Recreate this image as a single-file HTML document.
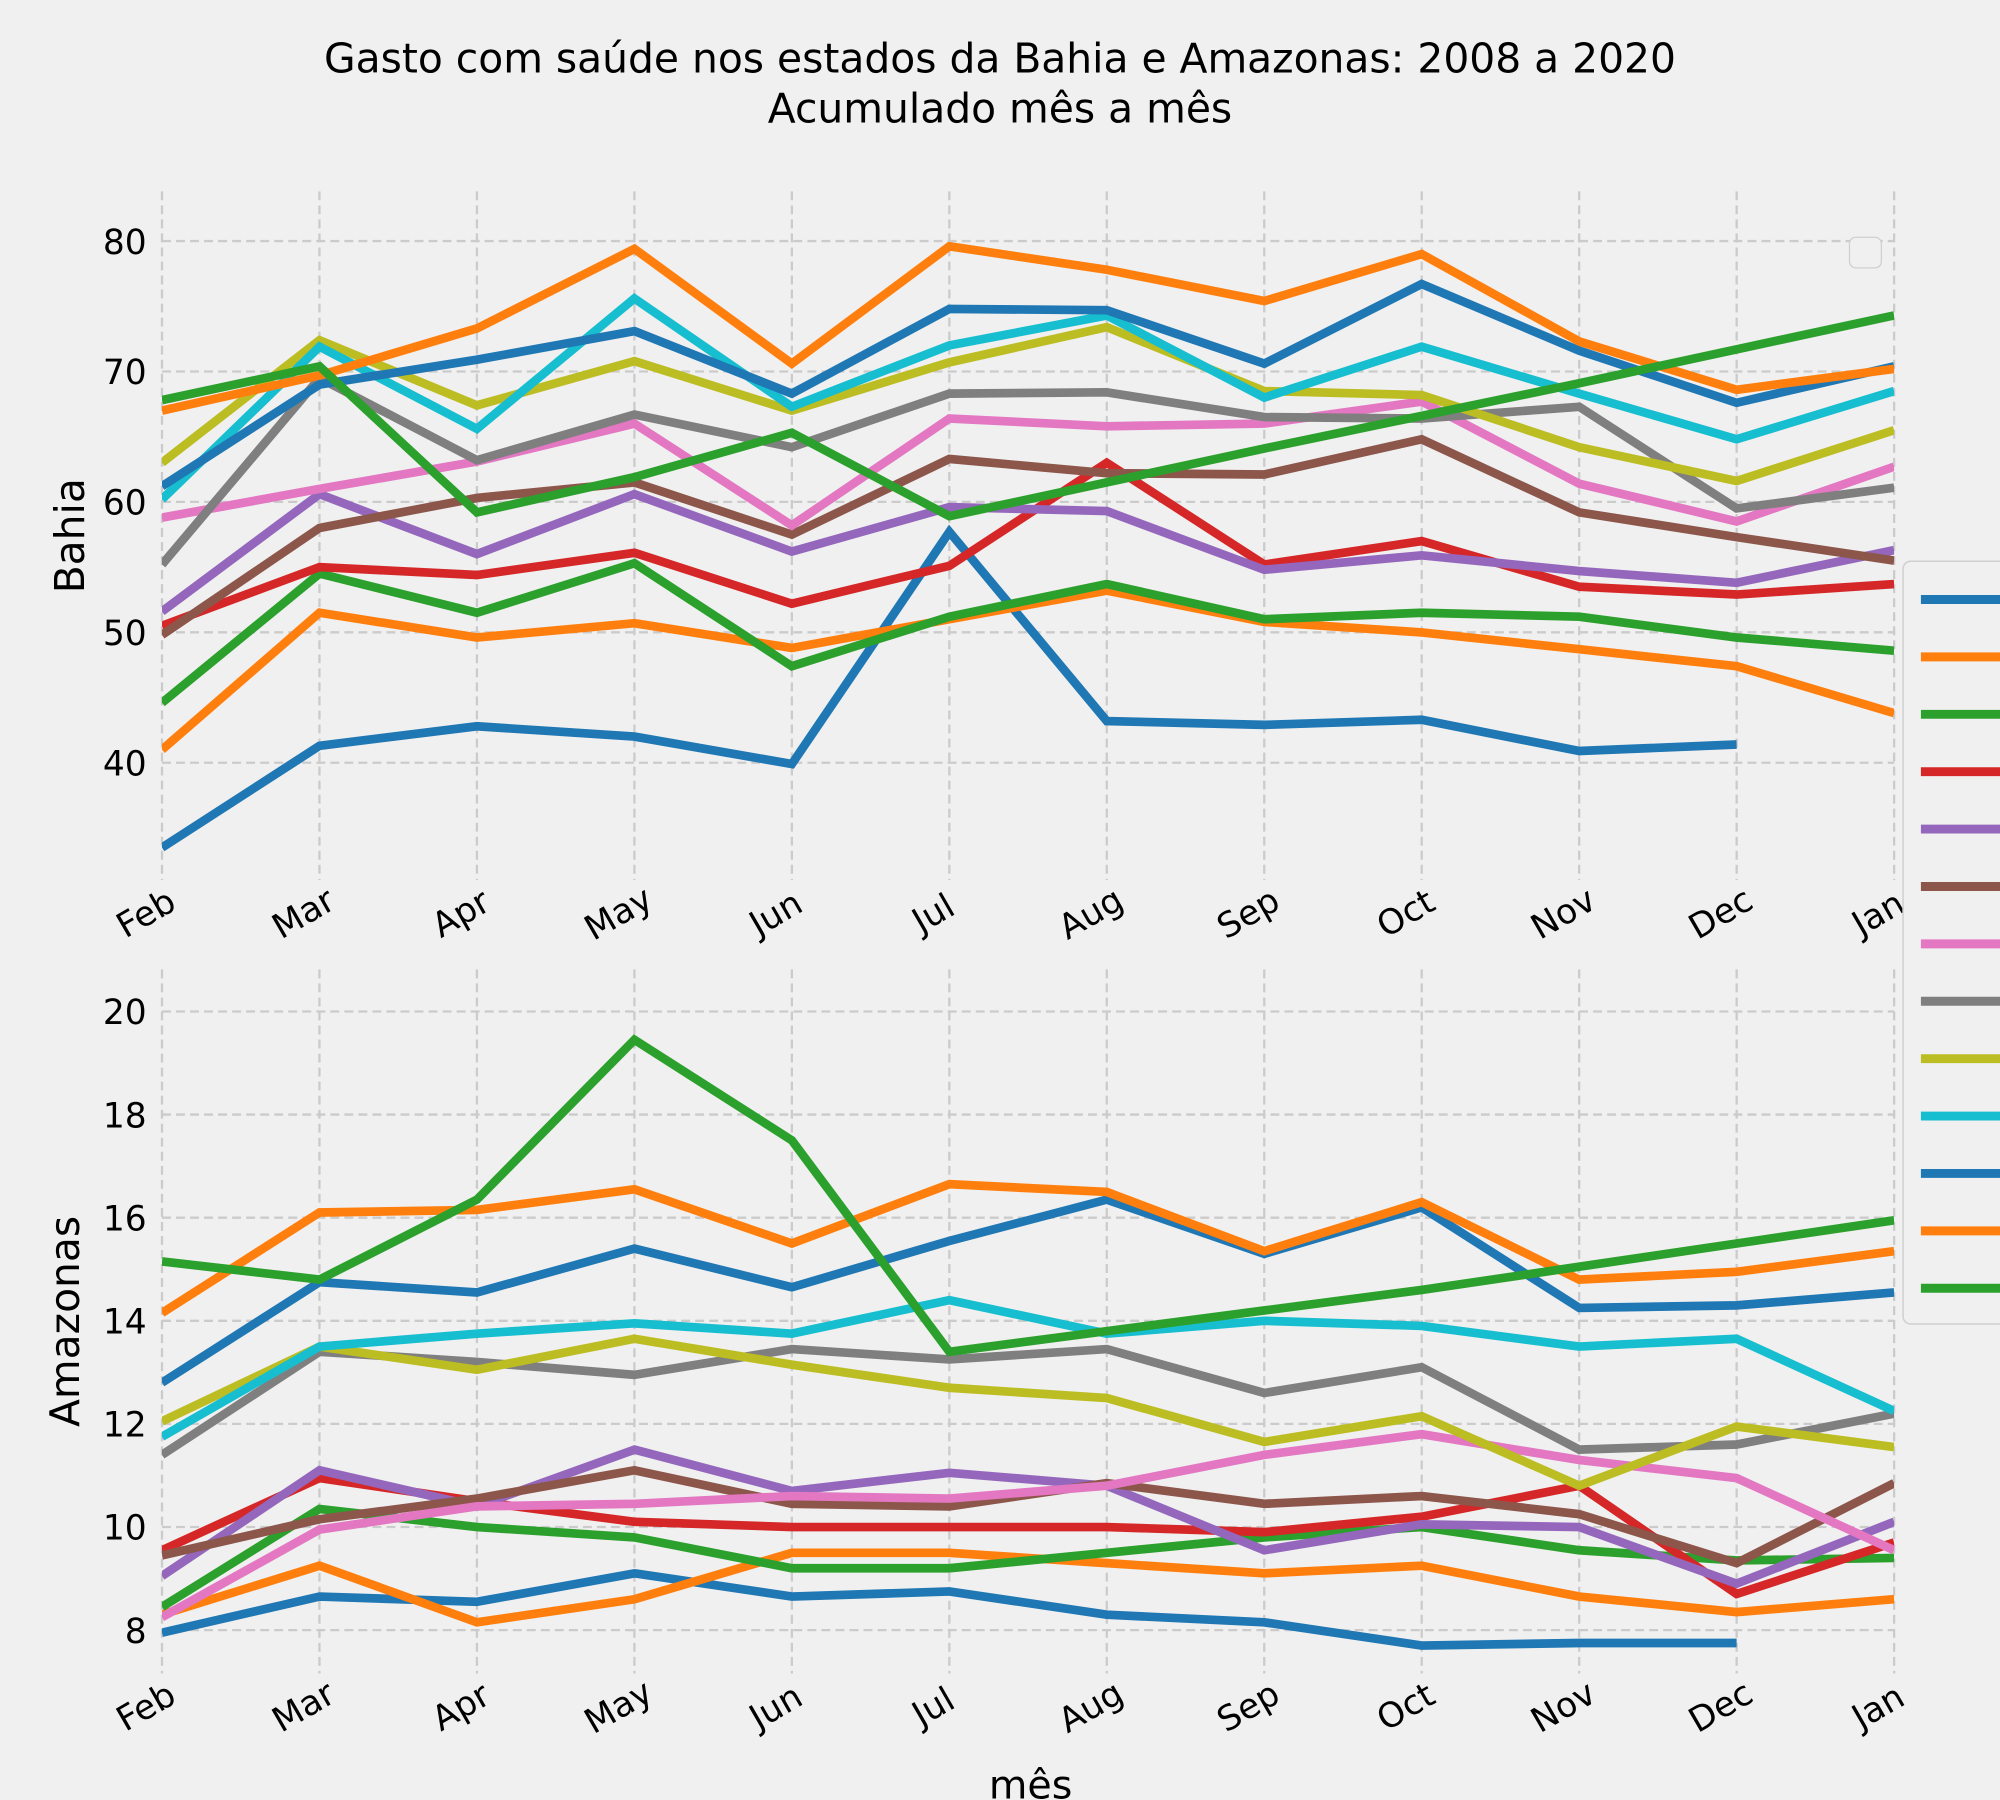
<!DOCTYPE html>
<html><head><meta charset="utf-8"><style>
html,body{margin:0;padding:0;background:#f0f0f0;}
svg{display:block;font-family:"DejaVu Sans","Liberation Sans",sans-serif;}
</style></head><body>
<svg id="chart" width="2000" height="1800" viewBox="0 0 1568 1411.2" xmlns="http://www.w3.org/2000/svg">
<rect x="0" y="0" width="1568" height="1411.2" fill="#f0f0f0"/>
<text x="784" y="57" text-anchor="middle" font-size="32" fill="#000">Gasto com saúde nos estados da Bahia e Amazonas: 2008 a 2020</text>
<text x="784" y="96" text-anchor="middle" font-size="32" fill="#000">Acumulado mês a mês</text>
<g id="top"></g>
<g id="bot"></g>
<text x="808" y="1410" text-anchor="middle" font-size="31">mês</text>
<rect x="1450" y="186" width="25" height="24" rx="5" fill="#f0f0f0" stroke="#d0d0d0"/>
<g id="legend"></g>
</svg>
<script>
const months = ["Feb","Mar","Apr","May","Jun","Jul","Aug","Sep","Oct","Nov","Dec","Jan"];
const colors = ["#1f77b4","#ff7f0e","#2ca02c","#d62728","#9467bd","#8c564b","#e377c2","#7f7f7f","#bcbd22","#17becf","#1f77b4","#ff7f0e","#2ca02c"];
const bahiaTicks = [40,50,60,70,80];
const amazTicks = [8,10,12,14,16,18,20];
const bahia2008 = [33.5,41.3,42.8,42,39.9,57.7,43.2,42.9,43.3,40.9,41.4,null];
const bahia2009 = [41,51.5,49.6,50.7,48.8,51,53.2,50.8,50,48.7,47.4,43.8];
const bahia2010 = [44.6,54.5,51.5,55.3,47.4,51.2,53.7,51,51.5,51.2,49.6,48.6];
const bahia2011 = [50.5,55,54.4,56.1,52.2,55.1,63,55.2,57,53.5,52.9,53.7];
const bahia2012 = [51.6,60.6,56,60.6,56.2,59.6,59.3,54.8,55.9,54.7,53.8,56.3];
const bahia2013 = [49.8,58,60.3,61.5,57.5,63.3,62.2,62.1,64.8,59.2,57.3,55.5];
const bahia2014 = [58.8,61,63.1,66,58.2,66.4,65.8,66,67.7,61.4,58.5,62.7];
const bahia2015 = [55.2,69.5,63.2,66.7,64.2,68.3,68.4,66.5,66.4,67.3,59.5,61.1];
const bahia2016 = [63,72.4,67.4,70.8,67,70.7,73.4,68.5,68.2,64.2,61.6,65.5];
const bahia2017 = [60.2,71.9,65.6,75.6,67.3,72,74.3,68,71.9,68.3,64.8,68.5];
const bahia2018 = [61.2,69,70.9,73.1,68.3,74.8,74.7,70.6,76.7,71.6,67.6,70.4];
const bahia2019 = [67,69.7,73.3,79.4,70.6,79.6,77.8,75.4,79,72.3,68.6,70.2];
const bahia2020 = [67.8,70.4,59.2,61.9,65.3,58.9,61.5,64.1,66.6,69.1,71.7,74.3];
const amaz2008 = [7.95,8.65,8.55,9.1,8.65,8.75,8.3,8.15,7.7,7.75,7.75,null];
const amaz2009 = [8.3,9.25,8.15,8.6,9.5,9.5,9.3,9.1,9.25,8.65,8.35,8.6];
const amaz2010 = [8.45,10.35,10.0,9.8,9.2,9.2,9.5,9.8,10.0,9.55,9.35,9.4];
const amaz2011 = [9.55,10.95,10.5,10.1,10.0,10.0,10.0,9.9,10.2,10.8,8.7,9.7];
const amaz2012 = [9.05,11.1,10.4,11.5,10.7,11.05,10.8,9.55,10.05,10.0,8.9,10.1];
const amaz2013 = [9.45,10.15,10.55,11.1,10.45,10.4,10.85,10.45,10.6,10.25,9.3,10.85];
const amaz2014 = [8.25,9.95,10.4,10.45,10.6,10.55,10.8,11.4,11.8,11.3,10.95,9.55];
const amaz2015 = [11.4,13.4,13.2,12.95,13.45,13.25,13.45,12.6,13.1,11.5,11.6,12.2];
const amaz2016 = [12.05,13.5,13.05,13.65,13.15,12.7,12.5,11.65,12.15,10.8,11.95,11.55];
const amaz2017 = [11.75,13.5,13.75,13.95,13.75,14.4,13.75,14.0,13.9,13.5,13.65,12.25];
const amaz2018 = [12.8,14.75,14.55,15.4,14.65,15.55,16.35,15.3,16.2,14.25,14.3,14.55];
const amaz2019 = [14.15,16.1,16.15,16.55,15.5,16.65,16.5,15.35,16.3,14.8,14.95,15.35];
const amaz2020 = [15.15,14.8,16.35,19.45,17.5,13.4,13.8,14.2,14.6,15.05,15.5,15.95];

const bahiaSeries=[bahia2008,bahia2009,bahia2010,bahia2011,bahia2012,bahia2013,bahia2014,bahia2015,bahia2016,bahia2017,bahia2018,bahia2019,bahia2020];
const amazSeries=[amaz2008,amaz2009,amaz2010,amaz2011,amaz2012,amaz2013,amaz2014,amaz2015,amaz2016,amaz2017,amaz2018,amaz2019,amaz2020];
const NS="http://www.w3.org/2000/svg";
const X0=127,X1=1485;
function xs(i){return X0+(X1-X0)*i/(months.length-1);}
function mk(tag,attrs,parent){const e=document.createElementNS(NS,tag);for(const k in attrs)e.setAttribute(k,attrs[k]);parent.appendChild(e);return e;}

function panel(g,series,ticks,vTop,yTop,vBot,yBot,axTop,axBot,label,labelY,pre){
  const ys=v=>yTop+(vTop-v)*(yBot-yTop)/(vTop-vBot);
  const cid="clip"+pre;
  const cp=mk("clipPath",{id:cid},g);
  mk("rect",{x:X0,y:axTop,width:X1-X0,height:axBot-axTop},cp);
  ticks.forEach(t=>{
    const l=mk("line",{x1:X0,x2:X1,y1:ys(t),y2:ys(t),stroke:"#cbcbcb","stroke-width":1.8,"stroke-dasharray":"7,4"},g);
    
    
    const tx=mk("text",{x:X0-12,y:ys(t)+10,"text-anchor":"end","font-size":27},g);
    tx.textContent=t;
    
    
  });
  months.forEach((m,i)=>{
    const l=mk("line",{x1:xs(i),x2:xs(i),y1:axTop,y2:axBot,stroke:"#cbcbcb","stroke-width":1.8,"stroke-dasharray":"7,4"},g);
    
    
    const tx=mk("text",{x:0,y:0,"text-anchor":"middle","font-size":27,transform:`translate(${xs(i)-8},${axBot+34}) rotate(-30)`},g);
    tx.textContent=m;
    
    
  });
  const lg=mk("g",{"clip-path":`url(#${cid})`},g);
  series.forEach((s,k)=>{
    let d="";let pen=false;
    s.forEach((v,i)=>{if(v==null){pen=false;return;}d+=(pen?"L":"M")+xs(i).toFixed(1)+","+ys(v).toFixed(1);pen=true;});
    const p=mk("path",{d:d,fill:"none",stroke:colors[k],"stroke-width":6.8,"stroke-linejoin":"miter"},lg);
    
    
  });
  const t=mk("text",{x:0,y:0,"text-anchor":"middle","font-size":32,transform:`translate(${labelY},${(axTop+axBot)/2}) rotate(-90)`},g);
  t.textContent=label;
  
  
}
panel(document.getElementById("top"),bahiaSeries,bahiaTicks,80,189,40,598,150,690,"Bahia",66,"bahia");
panel(document.getElementById("bot"),amazSeries,amazTicks,20,793,8,1278,760,1312,"Amazonas",62,"amazonas");

const lg=document.getElementById("legend");
const box=mk("rect",{x:1492,y:440,width:90,height:598,rx:6,fill:"#f0f0f0",stroke:"#d0d0d0","stroke-width":1.2},lg);


colors.forEach((c,k)=>{
  const y=470+k*45;
  const l=mk("line",{x1:1506,x2:1568,y1:y,y2:y,stroke:c,"stroke-width":7},lg);
  
  
});
</script>
</body></html>
